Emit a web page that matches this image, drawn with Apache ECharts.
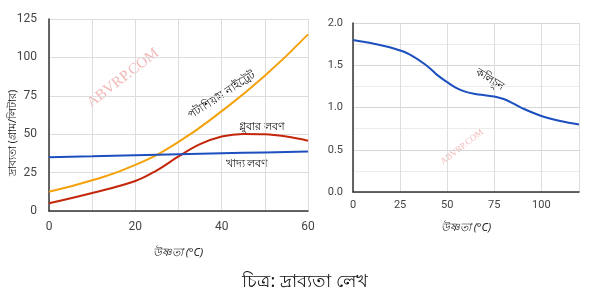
<!DOCTYPE html>
<html><head><meta charset="utf-8">
<script src="https://cdn.jsdelivr.net/npm/echarts@6/dist/echarts.min.js"></script>
<style>html,body{margin:0;padding:0;background:#fff}#c{width:600px;height:300px}</style>
</head><body><div id="c"></div>
<script>
// Left chart data (temperature °C vs solubility g/L)
const leftTemps = [0, 10, 20, 30, 40, 50, 60];
const potassiumNitrate = [12.5, 20, 30, 45, 65, 88, 115];
const glauberTemps = [0, 10, 20, 25, 30, 35, 40, 45, 50, 55, 60];
const glauberSalt = [5, 11.7, 19.5, 26.5, 35.5, 43.5, 48.5, 50.2, 50, 48.5, 45.8];
const tableSalt = [35, 35.6, 36.3, 37, 37.6, 38.1, 38.7];
// Right chart data
const rightTemps = [0, 10, 20, 30, 40, 45, 50, 55, 60, 65, 70, 75, 80, 85, 90, 100, 110, 120];
const slakedLime = [1.80, 1.76, 1.71, 1.63, 1.48, 1.38, 1.30, 1.23, 1.185, 1.16, 1.145, 1.13, 1.10, 1.05, 0.99, 0.90, 0.84, 0.80];

const leftTicksY = [0, 25, 50, 75, 100, 125];
const rightTicksY = [0, 0.5, 1.0, 1.5, 2.0];

const pair = (xs, ys) => xs.map((x, i) => [x, ys[i]]);
const FONT = '"Noto Sans", sans-serif';
const axisLbl = { color: '#444', fontSize: 12, fontFamily: 'Roboto, sans-serif' };

const chart = echarts.init(document.getElementById('c'), null, { renderer: 'canvas' });
chart.setOption({
  animation: false,
  grid: [
    { left: 49, right: 292, top: 19, bottom: 89 },
    { left: 353, right: 21, top: 23, bottom: 108 }
  ],
  xAxis: [
    { gridIndex: 0, type: 'value', min: 0, max: 60, interval: 10,
      axisLine: { lineStyle: { color: '#333', width: 1.5 } }, axisTick: { show: false },
      axisLabel: Object.assign({}, axisLbl, { margin: 10, formatter: v => (v % 20 === 0 ? String(v) : '') }),
      splitLine: { show: true, lineStyle: { color: '#ddd' } } },
    { gridIndex: 1, type: 'value', min: 0, max: 120, interval: 25,
      axisLine: { lineStyle: { color: '#333', width: 1.5 } }, axisTick: { show: false },
      axisLabel: Object.assign({}, axisLbl, { fontSize: 11, margin: 8, showMaxLabel: false, formatter: v => (v % 25 === 0 ? String(v) : '') }),
      splitLine: { show: true, lineStyle: { color: '#ddd' } } }
  ],
  yAxis: [
    { gridIndex: 0, type: 'value', min: 0, max: 125, interval: 25,
      axisLine: { show: true, lineStyle: { color: '#333', width: 1.5 } }, axisTick: { show: false },
      axisLabel: Object.assign({}, axisLbl, { margin: 12, formatter: v => (leftTicksY.includes(v) ? String(v) : '') }),
      splitLine: { show: true, lineStyle: { color: '#ddd' } } },
    { gridIndex: 1, type: 'value', min: 0, max: 2, interval: 0.5,
      axisLine: { show: true, lineStyle: { color: '#333', width: 1.5 } }, axisTick: { show: false },
      axisLabel: Object.assign({}, axisLbl, { fontSize: 11, margin: 10, formatter: v => (rightTicksY.includes(v) ? v.toFixed(1) : '') }),
      splitLine: { show: true, lineStyle: { color: '#d6d6d6' } },
      minorTick: { show: false, splitNumber: 2 },
      minorSplitLine: { show: true, lineStyle: { color: '#ececec' } } }
  ],
  series: [
    { type: 'line', xAxisIndex: 0, yAxisIndex: 0, data: pair(leftTemps, potassiumNitrate), smooth: true, showSymbol: false, lineStyle: { color: '#f4a20c', width: 2 } },
    { type: 'line', xAxisIndex: 0, yAxisIndex: 0, data: pair(glauberTemps, glauberSalt), smooth: 0.4, showSymbol: false, lineStyle: { color: '#c4260a', width: 2 } },
    { type: 'line', xAxisIndex: 0, yAxisIndex: 0, data: pair(leftTemps, tableSalt), smooth: true, showSymbol: false, lineStyle: { color: '#1d4fbf', width: 2 } },
    { type: 'line', xAxisIndex: 1, yAxisIndex: 1, data: pair(rightTemps, slakedLime), smooth: 0.4, showSymbol: false, lineStyle: { color: '#1d4fbf', width: 2 } }
  ],
  graphic: [
    { type: 'text', x: 123, y: 78, rotation: 0.66, style: { text: 'ABVRP.COM', fill: '#f3b8b8', font: '15px "Liberation Serif", serif', align: 'center', verticalAlign: 'middle' } },
    { type: 'text', x: 462, y: 147, rotation: 0.66, style: { text: 'ABVRP.COM', fill: '#f3b8b8', font: '9px "Liberation Serif", serif', align: 'center', verticalAlign: 'middle' } },
    { type: 'text', x: 222, y: 95, rotation: 0.58, style: { text: 'পটাশিয়াম নাইট্রেট', fill: '#111', font: '11px ' + FONT, align: 'center', verticalAlign: 'middle' } },
    { type: 'text', x: 262, y: 127, style: { text: 'গ্লুবার লবণ', fill: '#111', font: '11px ' + FONT, align: 'center', verticalAlign: 'middle' } },
    { type: 'text', x: 247, y: 164, style: { text: 'খাদ্য লবণ', fill: '#111', font: '11px ' + FONT, align: 'center', verticalAlign: 'middle' } },
    { type: 'text', x: 490, y: 80, rotation: -0.55, style: { text: 'কলিচুন', fill: '#111', font: '11px ' + FONT, align: 'center', verticalAlign: 'middle' } },
    { type: 'text', x: 13, y: 133, rotation: Math.PI / 2, style: { text: 'দ্রাব্যতা (গ্রাম/লিটার)', fill: '#222', font: '11px ' + FONT, align: 'center', verticalAlign: 'middle' } },
    { type: 'text', x: 178, y: 253, style: { text: 'উষ্ণতা (°C)', fill: '#222', font: 'italic 11px ' + FONT, align: 'center', verticalAlign: 'middle' } },
    { type: 'text', x: 466, y: 228, style: { text: 'উষ্ণতা (°C)', fill: '#222', font: 'italic 11px ' + FONT, align: 'center', verticalAlign: 'middle' } },
    { type: 'text', x: 305, y: 282, style: { text: 'চিত্র: দ্রাব্যতা লেখ', fill: '#111', font: '18px ' + FONT, align: 'center', verticalAlign: 'middle' } }
  ]
});
</script></body></html>
